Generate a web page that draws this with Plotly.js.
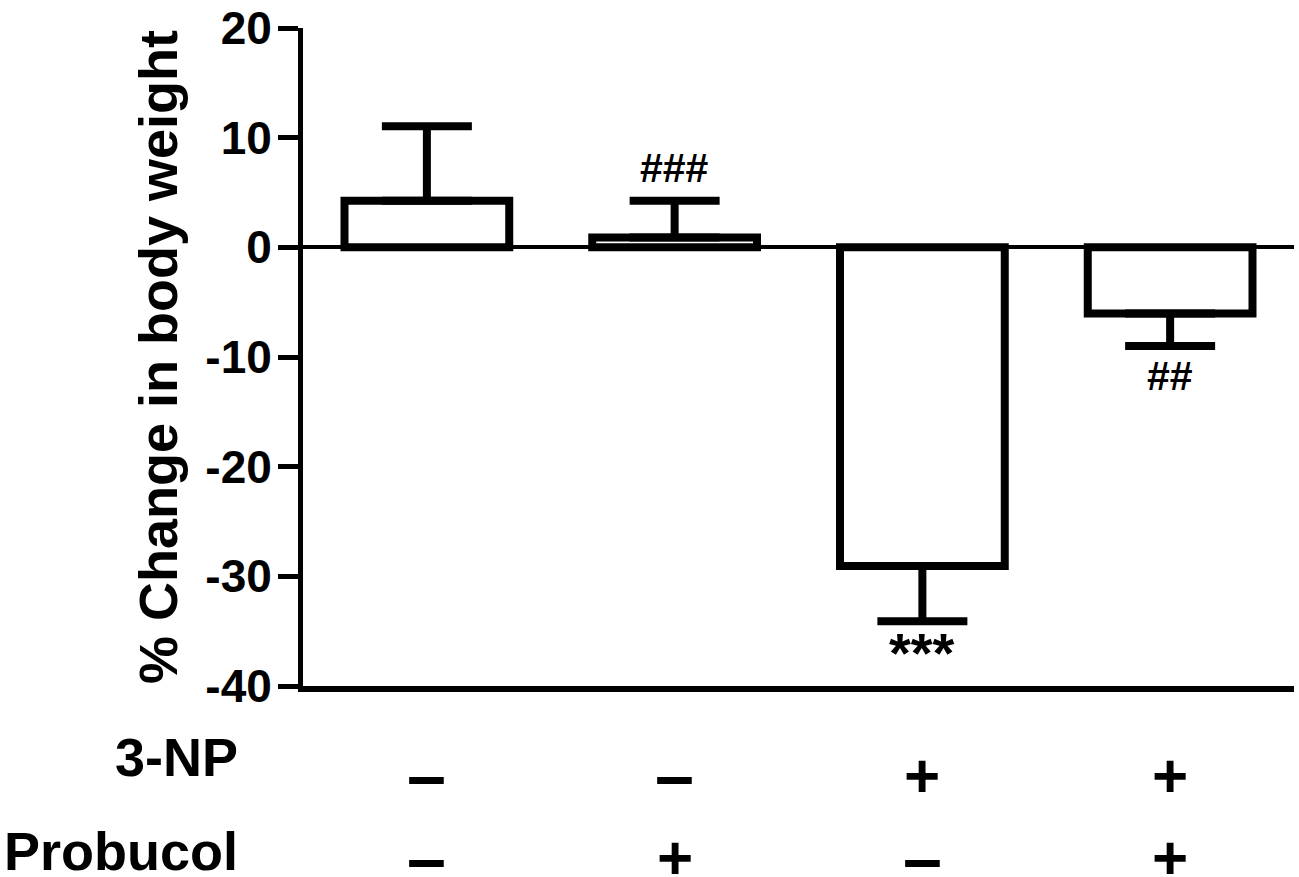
<!DOCTYPE html>
<html>
<head>
<meta charset="utf-8">
<script src="https://cdn.plot.ly/plotly-3.0.1.min.js"></script>
<style>html,body{margin:0;padding:0;background:#fff;}#chart{width:1299px;height:877px;}</style>
</head>
<body>
<div id="chart"></div>
<script>
// ---- data ----
var categories = ['G1', 'G2', 'G3', 'G4'];
var meanChange = [4.25, 0.9, -29.05, -6.03];
var semChange = [6.8, 3.35, 5.05, 2.97];
var sigLabels = ['', '###', '***', '##'];
var np3Signs = ['–', '–', '+', '+'];
var probucolSigns = ['–', '+', '–', '+'];
var rowLabels = ['3-NP', 'Probucol'];
var yTickVals = [-40, -30, -20, -10, 0, 10, 20];
var yTickText = ['-40', '-30', '-20', '-10', '0', '10', '20'];

var FONT = 'Liberation Sans, Arial, Helvetica, sans-serif';

var errUp = meanChange.map(function (m, i) { return m >= 0 ? semChange[i] : 0; });
var errDown = meanChange.map(function (m, i) { return m < 0 ? semChange[i] : 0; });

var trace = {
  type: 'bar',
  x: categories,
  y: meanChange,
  width: 0.665,
  marker: { color: '#ffffff', line: { color: '#000000', width: 8 } },
  error_y: {
    type: 'data', symmetric: false,
    array: errUp, arrayminus: errDown,
    color: '#000000', thickness: 8, width: 45
  },
  hoverinfo: 'none'
};

function signFont(s) {
  return { family: FONT, size: s === '–' ? 70 : 62, color: '#000', weight: 'bold' };
}

var annotations = [];
categories.forEach(function (c, i) {
  if (sigLabels[i]) {
    var up = meanChange[i] >= 0;
    var yEnd = up ? meanChange[i] + semChange[i] : meanChange[i] - semChange[i];
    var isStar = sigLabels[i] === '***';
    annotations.push({
      xref: 'x', yref: 'y', x: c, y: yEnd,
      text: sigLabels[i], showarrow: false,
      yanchor: 'middle',
      yshift: up ? 33 : (isStar ? -31 : -30),
      font: { family: FONT, size: isStar ? 56 : 41, color: '#000', weight: 'bold' }
    });
  }
  annotations.push({
    xref: 'x', yref: 'paper', x: c, y: -0.136, yanchor: 'middle',
    text: np3Signs[i], showarrow: false, font: signFont(np3Signs[i])
  });
  annotations.push({
    xref: 'x', yref: 'paper', x: c, y: -0.261, yanchor: 'middle',
    text: probucolSigns[i], showarrow: false, font: signFont(probucolSigns[i])
  });
});
annotations.push({
  xref: 'paper', yref: 'paper', x: -0.0634, y: -0.108, xanchor: 'right', yanchor: 'middle',
  text: rowLabels[0], showarrow: false,
  font: { family: FONT, size: 54, color: '#000', weight: 'bold' }
});
annotations.push({
  xref: 'paper', yref: 'paper', x: -0.0634, y: -0.251, xanchor: 'right', yanchor: 'middle',
  text: rowLabels[1], showarrow: false,
  font: { family: FONT, size: 54, color: '#000', weight: 'bold' }
});

var layout = {
  width: 1299, height: 877,
  margin: { l: 303, r: 5, t: 28, b: 191 },
  paper_bgcolor: '#ffffff', plot_bgcolor: '#ffffff',
  showlegend: false,
  font: { family: FONT, color: '#000' },
  xaxis: {
    type: 'category',
    range: [-0.5, 3.5],
    showticklabels: false, ticks: '',
    showline: true, linecolor: '#000', linewidth: 6,
    showgrid: false, zeroline: false, fixedrange: true
  },
  yaxis: {
    range: [-40, 20],
    tickvals: yTickVals, ticktext: yTickText,
    ticks: 'outside', ticklen: 20, tickwidth: 5, tickcolor: '#000',
    ticklabelstandoff: -3,
    showline: true, linecolor: '#000', linewidth: 5,
    showgrid: false,
    zeroline: true, zerolinecolor: '#000', zerolinewidth: 4,
    tickfont: { family: FONT, size: 46, color: '#000', weight: 'bold' },
    title: { text: '% Change in body weight', standoff: 12,
             font: { family: FONT, size: 54, color: '#000', weight: 'bold' } },
    fixedrange: true
  },
  annotations: annotations
};

Plotly.newPlot('chart', [trace], layout, { staticPlot: true, displayModeBar: false });
</script>
</body>
</html>
